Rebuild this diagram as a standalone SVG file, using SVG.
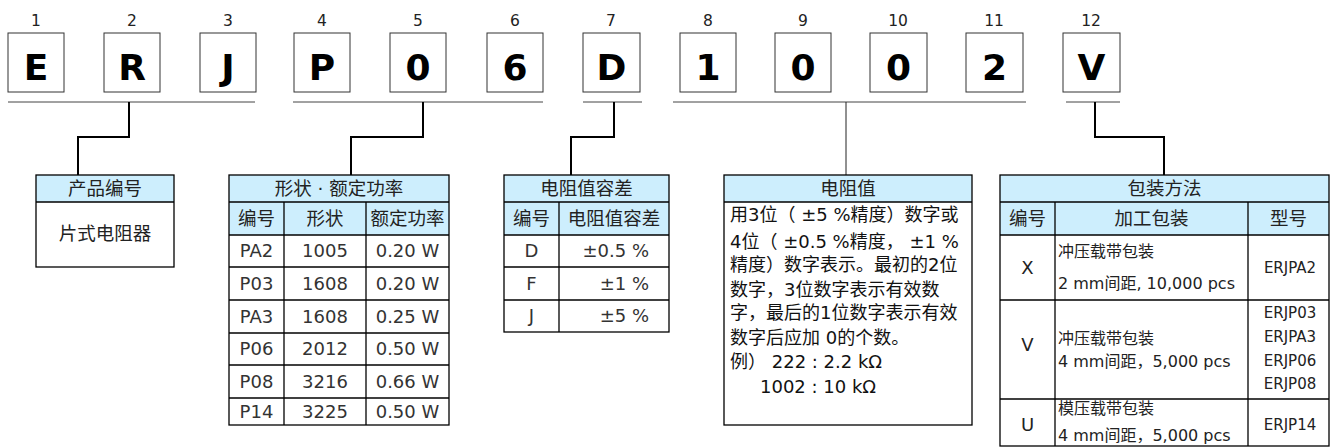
<svg xmlns="http://www.w3.org/2000/svg" width="1335" height="448" viewBox="0 0 1335 448">
<style>
  .num{font-family:"DejaVu Sans",sans-serif;font-size:15.5px;fill:#222;text-anchor:middle}
  .box{fill:#fff;stroke:#333;stroke-width:1}
  .let{font-family:"DejaVu Sans",sans-serif;font-weight:bold;font-size:36px;fill:#000;text-anchor:middle}
  .bar{stroke:#444;stroke-width:1;fill:none}
  .con{stroke:#000;stroke-width:2;fill:none}
  .con1{stroke:#222;stroke-width:1;fill:none}
  .hd{fill:#cdeefd;stroke:none}
  .tb{fill:none;stroke:#000;stroke-width:1.3}
  .ln{stroke:#000;stroke-width:1.3}
  .th{font-family:"DejaVu Sans","Noto Sans CJK SC",sans-serif;font-size:18.5px;fill:#222;text-anchor:middle}
  .td{font-family:"DejaVu Sans","Noto Sans CJK SC",sans-serif;font-size:18px;fill:#333;text-anchor:middle}
  .tr{font-family:"DejaVu Sans",sans-serif;font-size:18px;fill:#333;text-anchor:end}
  .p{font-family:"DejaVu Sans","Noto Sans CJK SC",sans-serif;font-size:18px;fill:#111}
  .s{font-family:"DejaVu Sans","Noto Sans CJK SC",sans-serif;font-size:16px;fill:#222}
  .sc{font-family:"DejaVu Sans","Noto Sans CJK SC",sans-serif;font-size:15px;fill:#222;text-anchor:middle}
  .bl{font-family:"DejaVu Sans",sans-serif;font-size:18px;fill:#222;text-anchor:middle}
</style>

<g id="code-boxes">
  <g id="c1"><text class="num" x="36" y="26">1</text><rect class="box" x="8" y="33" width="56" height="59"/><text class="let" x="36" y="80">E</text></g>
  <g id="c2"><text class="num" x="132" y="26">2</text><rect class="box" x="104" y="33" width="56" height="59"/><text class="let" x="132" y="80">R</text></g>
  <g id="c3"><text class="num" x="228" y="26">3</text><rect class="box" x="200" y="33" width="56" height="59"/><text class="let" x="228" y="80">J</text></g>
  <g id="c4"><text class="num" x="322" y="26">4</text><rect class="box" x="294" y="33" width="56" height="59"/><text class="let" x="322" y="80">P</text></g>
  <g id="c5"><text class="num" x="418" y="26">5</text><rect class="box" x="390" y="33" width="56" height="59"/><text class="let" x="418" y="80">0</text></g>
  <g id="c6"><text class="num" x="515" y="26">6</text><rect class="box" x="487" y="33" width="56" height="59"/><text class="let" x="515" y="80">6</text></g>
  <g id="c7"><text class="num" x="611" y="26">7</text><rect class="box" x="583" y="33" width="57" height="59"/><text class="let" x="611.5" y="80">D</text></g>
  <g id="c8"><text class="num" x="708" y="26">8</text><rect class="box" x="680" y="33" width="56" height="59"/><text class="let" x="708" y="80">1</text></g>
  <g id="c9"><text class="num" x="803" y="26">9</text><rect class="box" x="775" y="33" width="56" height="59"/><text class="let" x="803" y="80">0</text></g>
  <g id="c10"><text class="num" x="898" y="26">10</text><rect class="box" x="870" y="33" width="57" height="59"/><text class="let" x="898.5" y="80">0</text></g>
  <g id="c11"><text class="num" x="994" y="26">11</text><rect class="box" x="966" y="33" width="57" height="59"/><text class="let" x="994.5" y="80">2</text></g>
  <g id="c12"><text class="num" x="1091" y="26">12</text><rect class="box" x="1063" y="33" width="57" height="59"/><text class="let" x="1091.5" y="80">V</text></g>
</g>

<g id="connectors">
  <line class="bar" x1="8" y1="102" x2="255" y2="102"/>
  <line class="bar" x1="293" y1="102" x2="543" y2="102"/>
  <line class="bar" x1="583" y1="102" x2="642" y2="102"/>
  <line class="bar" x1="673" y1="102" x2="1026" y2="102"/>
  <line class="bar" x1="1066" y1="102" x2="1120" y2="102"/>
  <polyline class="con" points="129,102 129,137 78,137 78,175"/>
  <polyline class="con" points="423,102 423,137 351,137 351,175"/>
  <polyline class="con" points="614,102 614,137 571,137 571,175"/>
  <line class="con1" x1="846" y1="102" x2="846" y2="175"/>
  <polyline class="con" points="1095,102 1095,137 1164,137 1164,175"/>
</g>

<g id="t-product">
  <rect class="hd" x="36" y="175" width="138" height="27"/>
  <rect class="tb" x="36" y="175" width="138" height="92"/>
  <line class="ln" x1="36" y1="202" x2="174" y2="202"/>
  <text class="th" x="105" y="195">产品编号</text>
  <text class="th" x="105" y="240">片式电阻器</text>
</g>

<g id="t-shape">
  <rect class="hd" x="229" y="175" width="220" height="60"/>
  <rect class="tb" x="229" y="175" width="220" height="250"/>
  <line class="ln" x1="229" y1="202" x2="449" y2="202"/>
  <line class="ln" x1="229" y1="235" x2="449" y2="235"/>
  <line class="ln" x1="229" y1="267" x2="449" y2="267"/>
  <line class="ln" x1="229" y1="300" x2="449" y2="300"/>
  <line class="ln" x1="229" y1="333" x2="449" y2="333"/>
  <line class="ln" x1="229" y1="365" x2="449" y2="365"/>
  <line class="ln" x1="229" y1="398" x2="449" y2="398"/>
  <line class="ln" x1="284" y1="202" x2="284" y2="425"/>
  <line class="ln" x1="366" y1="202" x2="366" y2="425"/>
  <text class="th" x="339" y="195">形状 · 额定功率</text>
  <text class="th" x="256.5" y="225">编号</text>
  <text class="th" x="325" y="225">形状</text>
  <text class="th" x="407.5" y="225">额定功率</text>
  <text class="td" x="256.5" y="257">PA2</text><text class="td" x="325" y="257">1005</text><text class="td" x="407.5" y="257">0.20 W</text>
  <text class="td" x="256.5" y="290">P03</text><text class="td" x="325" y="290">1608</text><text class="td" x="407.5" y="290">0.20 W</text>
  <text class="td" x="256.5" y="323">PA3</text><text class="td" x="325" y="323">1608</text><text class="td" x="407.5" y="323">0.25 W</text>
  <text class="td" x="256.5" y="355">P06</text><text class="td" x="325" y="355">2012</text><text class="td" x="407.5" y="355">0.50 W</text>
  <text class="td" x="256.5" y="388">P08</text><text class="td" x="325" y="388">3216</text><text class="td" x="407.5" y="388">0.66 W</text>
  <text class="td" x="256.5" y="418">P14</text><text class="td" x="325" y="418">3225</text><text class="td" x="407.5" y="418">0.50 W</text>
</g>

<g id="t-tolerance">
  <rect class="hd" x="504" y="175" width="165" height="60"/>
  <rect class="tb" x="504" y="175" width="165" height="157"/>
  <line class="ln" x1="504" y1="202" x2="669" y2="202"/>
  <line class="ln" x1="504" y1="235" x2="669" y2="235"/>
  <line class="ln" x1="504" y1="267" x2="669" y2="267"/>
  <line class="ln" x1="504" y1="300" x2="669" y2="300"/>
  <line class="ln" x1="559" y1="202" x2="559" y2="332"/>
  <text class="th" x="586.5" y="195">电阻值容差</text>
  <text class="th" x="531.5" y="225">编号</text>
  <text class="th" x="614" y="225">电阻值容差</text>
  <text class="td" x="531.5" y="257">D</text><text class="tr" x="649" y="257">±0.5 %</text>
  <text class="td" x="531.5" y="290">F</text><text class="tr" x="649" y="290">±1 %</text>
  <text class="td" x="531.5" y="322">J</text><text class="tr" x="649" y="322">±5 %</text>
</g>

<g id="t-resistance">
  <rect class="hd" x="724" y="175" width="248" height="27"/>
  <rect class="tb" x="724" y="175" width="248" height="250"/>
  <line class="ln" x1="724" y1="202" x2="972" y2="202"/>
  <text class="th" x="848" y="195">电阻值</text>
  <text class="p" x="730" y="221">用3位（ ±5 %精度）数字或</text>
  <text class="p" x="730" y="248">4位（ ±0.5 %精度， ±1 %</text>
  <text class="p" x="730" y="271">精度）数字表示。最初的2位</text>
  <text class="p" x="730" y="296">数字，3位数字表示有效数</text>
  <text class="p" x="730" y="319">字，最后的1位数字表示有效</text>
  <text class="p" x="730" y="344">数字后应加 0的个数。</text>
  <text class="p" x="730" y="368">例） 222 : 2.2 kΩ</text>
  <text class="p" x="760" y="393">1002 : 10 kΩ</text>
</g>

<g id="t-packaging">
  <rect class="hd" x="1000" y="175" width="329" height="60"/>
  <rect class="tb" x="1000" y="175" width="329" height="271"/>
  <line class="ln" x1="1000" y1="202" x2="1329" y2="202"/>
  <line class="ln" x1="1000" y1="235" x2="1329" y2="235"/>
  <line class="ln" x1="1000" y1="300" x2="1329" y2="300"/>
  <line class="ln" x1="1000" y1="399" x2="1329" y2="399"/>
  <line class="ln" x1="1055" y1="202" x2="1055" y2="446"/>
  <line class="ln" x1="1248" y1="202" x2="1248" y2="446"/>
  <text class="th" x="1164.5" y="195">包装方法</text>
  <text class="th" x="1027.5" y="225">编号</text>
  <text class="th" x="1151.5" y="225">加工包装</text>
  <text class="th" x="1288.5" y="225">型号</text>
  <text class="bl" x="1027.5" y="274">X</text>
  <text class="s" x="1058" y="257">冲压载带包装</text>
  <text class="s" x="1058" y="289">2 mm间距, 10,000 pcs</text>
  <text class="sc" x="1290" y="273">ERJPA2</text>
  <text class="bl" x="1027.5" y="351">V</text>
  <text class="s" x="1058" y="344">冲压载带包装</text>
  <text class="s" x="1058" y="367">4 mm间距，5,000 pcs</text>
  <text class="sc" x="1290" y="318">ERJP03</text>
  <text class="sc" x="1290" y="342">ERJPA3</text>
  <text class="sc" x="1290" y="366">ERJP06</text>
  <text class="sc" x="1290" y="389">ERJP08</text>
  <text class="bl" x="1027.5" y="431">U</text>
  <text class="s" x="1058" y="414">模压载带包装</text>
  <text class="s" x="1058" y="441">4 mm间距，5,000 pcs</text>
  <text class="sc" x="1290" y="430">ERJP14</text>
</g>
</svg>
